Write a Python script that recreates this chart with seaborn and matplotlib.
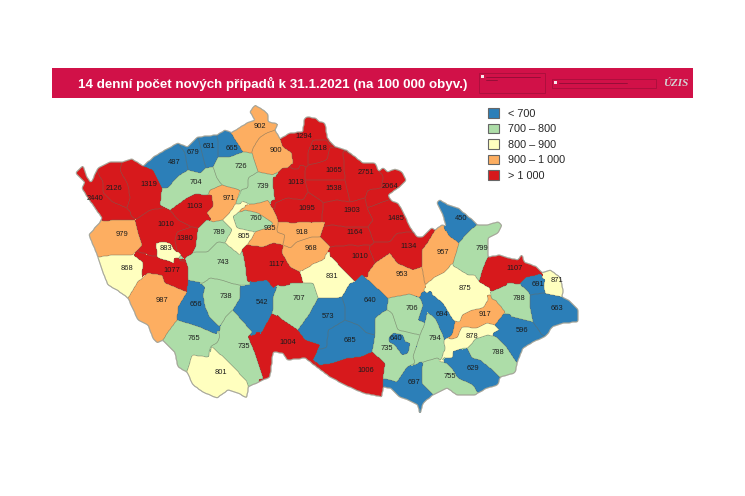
import numpy as np
import seaborn as sns
import matplotlib.pyplot as plt
from matplotlib.colors import ListedColormap, BoundaryNorm
from matplotlib.patches import Patch, Rectangle
from matplotlib.path import Path

W, H = 745, 496

names = ["Chomutov", "Most", "Teplice", "Usti", "Decin", "CLipa", "Liberec", "Jablonec", "Litomerice", "Louny",
         "Melnik", "MBoleslav", "Sokolov", "KVary", "Cheb", "Rakovnik", "Kladno", "Nymburk", "Praha", "PrahaVych",
         "Kolin", "PlzenSever", "Rokycany", "Beroun", "PrahaZap", "Tachov", "PlzenMesto", "KHora", "Domazlice", "PlzenJih",
         "Pribram", "Benesov", "Klatovy", "Pisek", "Strakonice", "Tabor", "Pelhrimov", "Jihlava", "Prachatice", "CBudejovice",
         "JHradec", "CKrumlov", "Semily", "Jicin", "Trutnov", "Nachod", "HKralove", "Rychnov", "Pardubice", "Jesenik",
         "UstiOrl", "Sumperk", "Bruntal", "Chrudim", "HBrod", "Svitavy", "Opava", "Olomouc", "Karvina", "Ostrava",
         "Zdar", "NJicin", "Blansko", "Prostejov", "Prerov", "Frydek", "Vsetin", "Trebic", "Brno", "Vyskov",
         "Kromeriz", "BrnoVen", "Zlin", "Znojmo", "UHradiste", "Hodonin", "Breclav"]
values = [487, 679, 631, 665, 902, 900, 1294, 1218, 726, 704,
          739, 1013, 2126, 1319, 2440, 1103, 971, 1095, 760, 935,
          918, 1010, 1380, 789, 805, 979, 883, 968, 868, 1077,
          743, 1117, 987, 738, 656, 542, 707, 573, 765, 735,
          1004, 801, 1065, 1538, 2751, 2064, 1903, 1485, 1164, 450,
          1134, 957, 799, 1010, 831, 953, 1107, 875, 871, 691,
          640, 788, 706, 694, 917, 663, 596, 685, 640, 794,
          878, 735, 788, 1006, 629, 755, 697]
label_x = [174, 193, 209, 232, 260, 276, 304, 319, 241, 196,
           263, 296, 114, 149, 95, 195, 229, 307, 256, 270,
           302, 166, 185, 219, 244, 122, 166, 311, 127, 172,
           223, 276, 162, 226, 196, 262, 299, 328, 194, 244,
           288, 221, 334, 334, 366, 390, 352, 396, 355, 461,
           409, 443, 482, 360, 332, 402, 515, 465, 557, 538,
           370, 519, 412, 442, 485, 557, 522, 350, 396, 435,
           472, 387, 498, 366, 473, 450, 414]
label_y = [163, 153, 146, 149, 126, 151, 137, 148, 167, 183,
           186, 182, 188, 184, 199, 207, 199, 209, 219, 229,
           232, 225, 239, 232, 236, 234, 248, 249, 269, 270,
           262, 264, 300, 296, 305, 302, 299, 317, 339, 346,
           342, 372, 171, 188, 172, 187, 211, 219, 232, 218,
           246, 252, 248, 256, 276, 275, 268, 288, 280, 285,
           300, 298, 309, 314, 314, 308, 331, 340, 339, 338,
           336, 349, 352, 370, 368, 376, 382]

# district shapes, in image pixels
shapes = {
    "Cheb": [(76,173),(83,166),(87,177),(91,183),(98,173),(103,182),(103,192),(113,202),(127,208),(134,220),(113,220),(102,218),(88,198),(82,188),(85,182)],
    "Sokolov": [(98,173),(98,168),(110,162),(122,162),(120,170),(128,185),(130,198),(127,208),(113,202),(103,192),(103,182)],
    "KVary": [(122,162),(132,159),(143,166),(153,170),(162,188),(161,200),(163,208),(150,210),(135,217),(127,208),(130,198),(128,185),(120,170)],
    "Chomutov": [(143,166),(155,156),(167,149),(178,143),(185,153),(188,170),(177,177),(168,188),(162,188),(153,170)],
    "Most": [(178,143),(187,147),(198,137),(203,157),(206,168),(200,173),(188,170),(185,153)],
    "Teplice": [(198,137),(217,135),(218,143),(218,157),(213,167),(206,168),(203,157)],
    "Usti": [(217,135),(225,130),(232,133),(243,152),(230,157),(218,157),(218,143)],
    "Decin": [(231,133),(247,123),(255,120),(250,112),(255,105),(263,110),(268,115),(268,122),(278,124),(275,130),(267,133),(260,137),(253,148),(252,152),(243,152)],
    "CLipa": [(260,137),(267,133),(275,130),(280,139),(283,147),(292,153),(293,162),(287,168),(272,175),(258,172),(255,163),(252,152),(253,148)],
    "Liberec": [(280,139),(290,133),(303,132),(304,120),(307,117),(315,118),(320,122),(325,123),(327,137),(330,142),(313,140),(308,152),(308,165),(293,165),(292,153),(283,147)],
    "Jablonec": [(313,140),(327,140),(330,147),(327,160),(318,163),(308,165),(308,152)],
    "MBoleslav": [(288,168),(305,170),(305,180),(308,192),(303,200),(287,198),(275,203),(273,180),(282,168)],
    "Semily": [(308,165),(318,163),(327,160),(330,147),(343,150),(344,165),(345,180),(320,180),(305,180),(305,170)],
    "Jicin": [(305,180),(345,180),(350,202),(337,200),(323,202),(308,192)],
    "Trutnov": [(343,150),(363,163),(375,163),(379,172),(383,175),(382,188),(368,190),(365,198),(350,202),(345,180)],
    "Nachod": [(379,172),(383,168),(388,172),(395,169),(402,172),(406,180),(398,188),(388,195),(391,203),(367,208),(365,198),(368,190),(382,188),(383,175)],
    "HKralove": [(322,203),(337,200),(350,202),(365,198),(367,208),(373,220),(368,227),(347,227),(332,225),(322,227)],
    "Nymburk": [(275,203),(287,198),(303,200),(308,192),(323,202),(322,222),(293,222),(277,222),(275,215)],
    "Pardubice": [(322,227),(332,225),(347,227),(368,227),(375,245),(352,245),(327,247),(320,237)],
    "Chrudim": [(327,247),(352,245),(369,248),(375,263),(368,273),(362,275),(355,282),(343,270),(332,257)],
    "Rychnov": [(367,208),(388,200),(397,203),(403,212),(410,227),(411,232),(397,233),(390,242),(375,242),(368,227),(373,220)],
    "UstiOrl": [(375,242),(390,242),(397,233),(411,232),(417,237),(423,237),(432,228),(435,230),(428,242),(422,250),(422,267),(413,270),(397,263),(390,253),(375,263),(369,248)],
    "Svitavy": [(390,253),(397,263),(413,270),(422,267),(425,285),(422,298),(410,294),(388,298),(368,280),(368,273),(375,263)],
    "Sumperk": [(422,250),(428,242),(435,230),(442,225),(448,235),(459,243),(452,263),(445,272),(435,277),(425,285),(422,267)],
    "Jesenik": [(437,203),(440,200),(448,205),(458,208),(470,218),(477,225),(468,232),(459,243),(448,235),(446,226),(443,215)],
    "Bruntal": [(477,225),(487,225),(498,222),(502,225),(498,233),(488,238),(488,257),(483,268),(479,282),(475,275),(468,275),(452,267),(459,243),(468,232)],
    "Opava": [(488,257),(500,255),(508,258),(518,260),(522,254),(524,262),(537,267),(542,273),(523,280),(520,283),(513,283),(503,282),(492,290),(479,282),(483,268)],
    "Olomouc": [(452,265),(468,275),(475,275),(479,282),(490,288),(490,292),(485,298),(483,308),(472,310),(462,315),(460,322),(453,320),(443,303),(435,293),(427,290),(425,285),(435,277),(445,272)],
    "Karvina": [(542,273),(550,270),(560,277),(563,290),(562,297),(555,293),(547,292),(545,285),(545,278)],
    "Ostrava": [(520,283),(527,277),(540,275),(544,280),(544,293),(530,295),(527,290),(522,287)],
    "Frydek": [(530,295),(543,293),(562,297),(568,300),(578,310),(578,322),(563,323),(552,327),(547,335),(540,332),(533,322),(530,307)],
    "NJicin": [(490,292),(512,283),(520,285),(527,290),(530,295),(530,307),(533,322),(517,318),(505,312),(493,297)],
    "Vsetin": [(495,325),(505,315),(517,318),(533,322),(540,332),(542,338),(533,342),(523,348),(517,363),(507,348),(497,337),(499,330)],
    "Prerov": [(452,335),(455,322),(460,322),(462,315),(472,310),(483,308),(490,297),(498,303),(505,312),(495,325),(487,323),(477,328),(462,327),(457,338)],
    "Kromeriz": [(444,340),(457,338),(462,327),(477,328),(487,323),(495,325),(499,330),(488,335),(478,337),(467,347),(448,353),(440,362),(445,350)],
    "Zlin": [(467,348),(478,338),(488,335),(497,337),(507,348),(517,363),(515,373),(500,377),(490,368),(480,360),(472,358)],
    "UHradiste": [(447,363),(457,352),(467,348),(472,358),(480,360),(490,368),(500,377),(498,385),(487,388),(478,393),(473,385),(458,378),(453,370)],
    "Hodonin": [(423,362),(437,358),(440,362),(447,363),(453,370),(458,378),(473,385),(478,393),(475,395),(457,395),(447,388),(433,395),(422,383),(422,370)],
    "Breclav": [(383,380),(397,382),(407,367),(422,363),(422,383),(433,395),(423,403),(420,415),(418,405),(408,400),(400,397),(390,388),(383,387)],
    "Prostejov": [(422,292),(430,293),(443,303),(453,320),(455,322),(452,335),(444,340),(443,335),(435,318),(427,312),(425,323),(418,320),(423,305),(420,298)],
    "Vyskov": [(427,312),(435,318),(443,335),(444,340),(445,350),(440,358),(437,358),(423,362),(415,363),(413,357),(420,337),(418,323),(425,323)],
    "Blansko": [(388,298),(410,294),(420,298),(423,305),(418,320),(425,323),(420,335),(398,330),(392,313),(387,310)],
    "BrnoVen": [(387,310),(392,313),(398,330),(420,335),(413,357),(415,363),(407,367),(397,382),(383,378),(385,363),(372,352),(375,335),(375,318),(383,312)],
    "Zdar": [(342,297),(350,283),(355,282),(362,275),(368,280),(388,298),(387,310),(383,312),(375,318),(375,335),(367,333),(358,325),(345,320),(345,307)],
    "Jihlava": [(318,298),(335,298),(342,297),(345,307),(345,320),(332,328),(328,330),(327,347),(320,348),(317,344),(305,340),(298,330),(310,313)],
    "Trebic": [(332,328),(345,320),(358,325),(367,333),(375,335),(372,352),(360,357),(348,358),(333,363),(320,365),(313,360),(320,350),(327,347),(328,330)],
    "Znojmo": [(320,365),(333,363),(348,358),(360,357),(372,352),(385,363),(383,378),(383,387),(382,397),(363,393),(345,385),(330,377),(318,368),(313,360)],
    "JHradec": [(248,337),(260,333),(270,317),(283,320),(298,330),(305,340),(320,345),(313,360),(318,368),(305,358),(287,360),(283,353),(273,352),(270,377),(263,380),(255,353)],
    "HBrod": [(300,272),(318,262),(328,257),(332,257),(343,270),(355,282),(350,283),(342,297),(335,298),(318,298),(313,295),(312,285),(303,283)],
    "Pelhrimov": [(277,287),(300,283),(313,283),(318,298),(310,313),(298,330),(283,320),(273,310),(273,297)],
    "Tabor": [(240,288),(253,282),(267,280),(277,287),(273,297),(273,310),(270,317),(260,335),(260,332),(252,332),(233,310),(240,298)],
    "Pisek": [(203,283),(210,278),(222,280),(230,283),(240,285),(240,298),(233,310),(225,318),(218,325),(210,318),(205,307),(203,295)],
    "Strakonice": [(188,280),(198,282),(205,287),(203,295),(205,307),(210,318),(220,327),(213,333),(200,327),(177,320),(178,307),(187,293)],
    "CBudejovice": [(220,327),(225,318),(233,310),(252,332),(248,337),(255,353),(263,378),(255,380),(248,387),(247,382),(228,363),(210,347),(218,342)],
    "CKrumlov": [(192,355),(210,357),(212,347),(230,363),(247,382),(248,387),(247,398),(238,393),(228,390),(217,398),(203,392),(193,385),(187,372)],
    "Prachatice": [(168,332),(177,320),(200,327),(213,333),(220,335),(218,342),(210,347),(208,357),(192,355),(187,372),(178,367),(175,353),(163,340)],
    "Klatovy": [(128,298),(137,283),(148,273),(162,275),(165,283),(187,292),(178,307),(177,320),(168,332),(163,340),(157,343),(153,338),(148,325),(138,320)],
    "Domazlice": [(98,257),(112,255),(133,255),(143,262),(142,277),(137,283),(128,298),(117,290),(108,285),(102,270)],
    "PlzenJih": [(133,255),(137,252),(155,257),(175,263),(185,262),(188,267),(188,280),(187,292),(165,283),(162,275),(148,273),(142,277),(143,262)],
    "Tachov": [(89,235),(100,222),(113,220),(135,220),(138,232),(142,245),(133,255),(112,255),(98,257)],
    "PlzenSever": [(135,220),(150,210),(163,208),(170,210),(178,220),(192,227),(177,232),(175,240),(177,250),(172,250),(155,243),(155,255),(137,252),(142,245),(138,232)],
    "Rokycany": [(177,232),(192,227),(198,228),(197,243),(192,255),(185,260),(177,250),(175,240)],
    "Rakovnik": [(170,210),(187,198),(195,194),(212,195),(213,207),(207,220),(213,226),(198,228),(192,227),(178,220)],
    "Louny": [(168,188),(177,177),(188,170),(200,173),(206,168),(213,167),(217,178),(222,185),(210,190),(208,195),(195,194),(187,198),(170,210),(160,205),(162,188)],
    "Litomerice": [(213,167),(218,157),(230,157),(243,152),(252,153),(258,172),(248,178),(248,188),(240,190),(223,186),(222,185),(217,178)],
    "Melnik": [(248,178),(258,172),(273,175),(273,197),(268,200),(260,203),(247,200),(236,203),(242,190),(248,188)],
    "Kladno": [(208,195),(210,190),(222,185),(240,190),(236,203),(230,212),(223,220),(213,222),(207,213),(213,207),(212,195)],
    "Beroun": [(213,222),(223,220),(232,230),(227,243),(218,242),(208,252),(195,252),(198,228),(207,220)],
    "PrahaZap": [(223,220),(230,212),(236,205),(245,205),(233,217),(237,228),(255,232),(252,238),(247,245),(240,255),(225,243),(232,230)],
    "PrahaVych": [(245,205),(260,203),(268,200),(277,217),(278,222),(277,232),(285,235),(283,245),(273,243),(263,247),(253,245),(247,245),(252,238),(255,232),(260,230),(268,228),(273,223),(258,213),(245,210)],
    "Praha": [(235,215),(245,210),(258,213),(273,223),(268,228),(260,230),(255,232),(237,228),(233,217)],
    "Kolin": [(278,222),(300,223),(325,222),(320,237),(312,237),(297,242),(290,248),(283,245),(285,235),(277,232)],
    "KHora": [(283,245),(290,248),(297,242),(312,237),(320,237),(330,247),(323,260),(303,268),(300,272),(290,267),(282,253)],
    "Benesov": [(242,250),(247,245),(263,247),(273,243),(283,245),(282,253),(290,267),(300,272),(303,283),(280,283),(273,288),(267,280),(253,282),(247,280),(245,263)],
    "Pribram": [(185,258),(195,252),(208,252),(218,242),(225,243),(240,255),(242,250),(245,263),(247,280),(250,285),(240,285),(230,283),(222,280),(210,278),(203,283),(198,282),(188,280),(188,267)],
    "PlzenMesto": [(156,243),(163,242),(170,243),(176,253),(173,263),(167,260),(158,255)],
    "Brno": [(389,338),(393,333),(403,335),(405,342),(410,343),(408,353),(402,355),(395,345),(389,342)],
}

# country outline, used to close the small gaps between shapes
outline_x = [76, 83, 87, 91, 98, 110, 122, 132, 143, 155, 167, 178, 187, 198, 217, 225, 232, 247, 255, 250, 255, 263, 268, 268, 278, 275,
             280, 290, 303, 304, 307, 315, 320, 325, 327, 330, 336, 346, 363, 375, 379, 383, 388, 395, 402, 406, 398, 388, 392, 398, 403, 410,
             417, 423, 432, 435, 442, 446, 443, 437, 440, 448, 458, 470, 477, 487, 498, 502, 498, 488, 488, 500, 508, 518, 522, 524, 537,
             542, 550, 560, 563, 562, 568, 578, 578, 563, 552, 547, 542, 533, 523, 517, 515, 500, 498, 487, 478, 475, 457, 447, 433, 423, 420,
             418, 408, 400, 390, 383, 382, 363, 345, 330, 318, 305, 287, 283, 273, 270, 263, 248, 247, 238, 228, 217, 203, 193, 187, 178,
             175, 163, 157, 153, 148, 138, 128, 117, 108, 102, 98, 89, 100, 102, 88, 82, 85]
outline_y = [173, 166, 177, 183, 168, 162, 162, 159, 166, 156, 149, 143, 147, 137, 135, 130, 133, 123, 120, 112, 105, 110, 115, 122, 124, 130,
             139, 133, 132, 120, 117, 118, 122, 123, 137, 142, 147, 150, 163, 163, 172, 168, 172, 169, 172, 180, 188, 195, 202, 203, 212, 227,
             237, 237, 228, 230, 225, 226, 215, 203, 200, 205, 208, 218, 225, 225, 222, 225, 233, 238, 257, 255, 258, 260, 254, 262, 267,
             273, 270, 277, 290, 297, 300, 310, 322, 323, 327, 335, 338, 342, 348, 363, 373, 377, 385, 388, 393, 395, 395, 388, 395, 403, 415,
             405, 400, 397, 388, 387, 397, 393, 385, 377, 368, 358, 360, 353, 352, 377, 380, 387, 398, 393, 390, 398, 392, 385, 372, 367,
             353, 340, 343, 338, 325, 320, 298, 290, 285, 270, 257, 235, 222, 218, 198, 188, 182]

legend_labels = ["< 700", "700 – 800", "800 – 900", "900 – 1 000", "> 1 000"]
class_edges = [0, 700, 800, 900, 1000, 3000]
class_colors = ["#2c7fb8", "#addda8", "#ffffbf", "#fdae61", "#d7191c"]

sns.set_theme(style="white")
plt.rcParams["font.family"] = ["Liberation Sans", "DejaVu Sans"]

value_of = dict(zip(names, values))


def smooth(m):
    # takes the stair steps off a pixel mask before contouring
    for _ in range(2):
        m = (m + np.roll(m, 1, 0) + np.roll(m, -1, 0) + np.roll(m, 1, 1) + np.roll(m, -1, 1)) / 5
    return m


xx, yy = np.meshgrid(np.arange(W) + 0.5, np.arange(H) + 0.5)
pts = np.column_stack([xx.ravel(), yy.ravel()])
district = -np.ones(xx.shape, dtype=int)
verts, vert_ids = [], []
# later shapes overwrite earlier ones, so the enclaves come last in the dict
order = list(shapes)
for i, n in enumerate(order):
    district[Path(shapes[n]).contains_points(pts).reshape(xx.shape)] = i
    verts += shapes[n]
    vert_ids += [i] * len(shapes[n])
inside = Path(np.column_stack([outline_x, outline_y])).contains_points(pts).reshape(xx.shape) | (district >= 0)

# gaps inside the country go to the nearest traced vertex
gap_y, gap_x = np.where(inside & (district < 0))
verts = np.array(verts, dtype=float)
vert_ids = np.array(vert_ids)
d2 = (xx[gap_y, gap_x][:, None] - verts[:, 0]) ** 2 + (yy[gap_y, gap_x][:, None] - verts[:, 1]) ** 2
district[gap_y, gap_x] = vert_ids[d2.argmin(axis=1)]

grid = np.full(xx.shape, np.nan)
for i, n in enumerate(order):
    grid[district == i] = value_of[n]

fig = plt.figure(figsize=(W / 100, H / 100), dpi=100)
ax = fig.add_axes([0, 0, 1, 1])
sns.heatmap(grid, mask=~inside, cmap=ListedColormap(class_colors), norm=BoundaryNorm(class_edges, 5),
            cbar=False, xticklabels=False, yticklabels=False, ax=ax, rasterized=True)

# district borders
for i in range(len(order)):
    ax.contour(xx, yy, smooth((district == i).astype(float)), levels=[0.5], colors="#6a6a5c", linewidths=0.3, alpha=0.55)
ax.contour(xx, yy, smooth(inside.astype(float)), levels=[0.5], colors="#a8a89c", linewidths=0.8)

for x, y, v in zip(label_x, label_y, values):
    ax.text(x, y, str(v), ha="center", va="center", fontsize=5.4, color="#1c1c1c")

# header band
ax.add_patch(Rectangle((52, 68), 641, 30, facecolor="#d11148", edgecolor="none"))
ax.text(78, 83.5, "14 denní počet nových případů k 31.1.2021 (na 100 000 obyv.)", color="white",
        fontsize=9.6, fontweight="bold", ha="left", va="center")
ax.add_patch(Rectangle((479, 73), 66, 20, facecolor="none", edgecolor="#a80f3c", lw=0.6))
ax.add_patch(Rectangle((552, 79), 104, 9, facecolor="none", edgecolor="#a80f3c", lw=0.6))
ax.add_patch(Rectangle((481, 75), 3, 3, facecolor="#f5e8ec", edgecolor="none"))
ax.add_patch(Rectangle((554, 81), 3, 3, facecolor="#f5e8ec", edgecolor="none"))
ax.plot([486, 540], [76.5, 76.5], color="#8e0d35", lw=0.6)
ax.plot([486, 497], [79.5, 79.5], color="#8e0d35", lw=0.6)
ax.plot([559, 627], [82.5, 82.5], color="#8e0d35", lw=0.6)
ax.text(676, 84, "ÚZIS", color="#d5d5d5", fontsize=8, fontweight="bold", style="italic",
        family="Liberation Serif", ha="center", va="center")

handles = [Patch(facecolor=c, edgecolor="#666666", lw=0.8, label=l) for c, l in zip(class_colors, legend_labels)]
ax.legend(handles=handles, loc="upper left", bbox_to_anchor=(488 / W, 1 - 108 / H), frameon=False, fontsize=7.8,
          handlelength=1.0, handleheight=1.0, handletextpad=0.85, labelspacing=0.46, borderpad=0, borderaxespad=0)

fig.savefig("out.png", dpi=100)
